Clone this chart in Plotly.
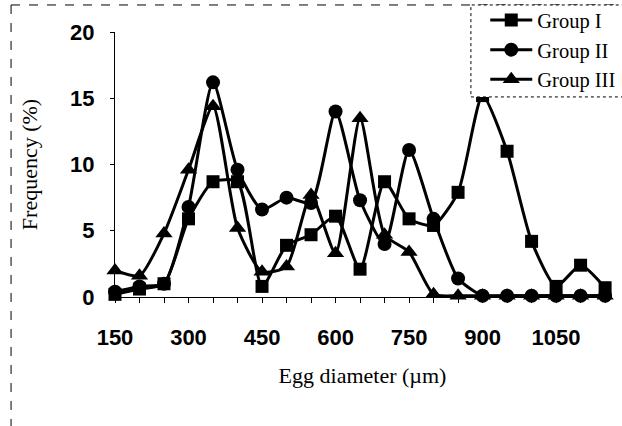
import plotly.graph_objects as go

diameter = [150, 200, 250, 300, 350, 400, 450, 500, 550, 600, 650,
            700, 750, 800, 850, 900, 950, 1000, 1050, 1100, 1150]

group1 = [0.2, 0.6, 1.0, 5.9, 8.7, 8.7, 0.8, 3.9, 4.7, 6.1, 2.1,
          8.7, 5.9, 5.4, 7.9, 15.2, 11.0, 4.2, 0.8, 2.4, 0.7]
group2 = [0.4, 0.8, 1.0, 6.8, 16.2, 9.6, 6.6, 7.5, 7.1, 14.0, 7.3,
          4.0, 11.1, 5.9, 1.4, 0.1, 0.1, 0.1, 0.1, 0.1, 0.1]
group3 = [2.0, 1.6, 4.8, 9.6, 14.4, 5.2, 1.9, 2.3, 7.7, 3.3, 13.5,
          4.7, 3.4, 0.2, 0.1, 0.1, 0.1, 0.1, 0.1, 0.1, 0.1]

names = ["Group I", "Group II", "Group III"]
symbols = ["square", "circle", "triangle-up"]
sizes = [13, 14, 15]
series = [group1, group2, group3]

x_ticks = [150, 300, 450, 600, 750, 900, 1050]
y_ticks = [0, 5, 10, 15, 20]

tick_font = dict(family="Liberation Sans, Arial", size=22,
                 color="black", weight="bold")

fig = go.Figure()
for name, vals, sym, sz in zip(names, series, symbols, sizes):
    fig.add_trace(go.Scatter(
        x=diameter, y=vals, name=name, mode="lines+markers",
        line=dict(color="black", width=3, shape="spline", smoothing=0.6),
        marker=dict(symbol=sym, size=sz, color="black"),
        cliponaxis=False,
    ))

fig.update_layout(
    width=622, height=426,
    margin=dict(l=115, r=12, t=32, b=129, autoexpand=False),
    paper_bgcolor="white", plot_bgcolor="white",
    showlegend=True,
    legend=dict(
        x=0.748, y=1.12, xanchor="left", yanchor="top",
        bgcolor="rgba(255,255,255,0)", borderwidth=0,
        font=dict(family="Liberation Serif", size=20.5, color="black"),
        tracegroupgap=0, itemwidth=42,
    ),
    shapes=[
        dict(type="line", xref="paper", yref="paper", x0=-0.21, x1=1.03,
             y0=1.102, y1=1.102, line=dict(color="black", width=1, dash="dash")),
        dict(type="line", xref="paper", yref="paper", x0=-0.21, x1=-0.21,
             y0=1.102, y1=-0.5, line=dict(color="black", width=1, dash="dash")),
        dict(type="rect", xref="paper", yref="paper", x0=0.719, x1=1.03,
             y0=0.755, y1=1.102, fillcolor="white", layer="above",
             line=dict(color="black", width=1, dash="dot")),
    ],
)

fig.update_xaxes(
    range=[150, 1160],
    tickmode="array", tickvals=x_ticks, ticktext=[str(v) for v in x_ticks],
    showgrid=False, zeroline=False,
    showline=True, linecolor="black", linewidth=1,
    ticks="outside", ticklen=5, tickcolor="black",
    minor=dict(dtick=50, tick0=150, ticks="outside", ticklen=5, tickcolor="black", showgrid=False),
    ticklabelstandoff=16,
    tickfont=tick_font,
    title=dict(text="Egg diameter (µm)", standoff=18,
               font=dict(family="Liberation Serif", size=22, color="black")),
)
fig.update_yaxes(
    range=[0, 20],
    tickmode="array", tickvals=y_ticks, ticktext=[str(v) for v in y_ticks],
    showgrid=False, zeroline=False,
    showline=True, linecolor="black", linewidth=1,
    ticks="outside", ticklen=4, tickcolor="black",
    ticklabelstandoff=11,
    tickfont=tick_font,
    title=dict(text="Frequency (%)", standoff=26,
               font=dict(family="Liberation Serif", size=22, color="black")),
)

fig.write_html("out.html")
